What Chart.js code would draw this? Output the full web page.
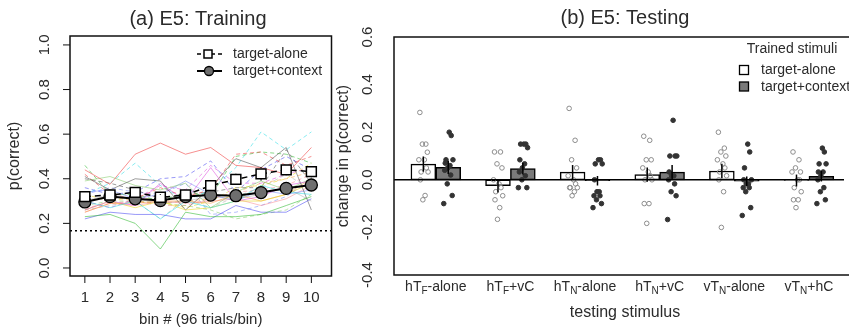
<!DOCTYPE html>
<html>
<head>
<meta charset="utf-8">
<script src="https://cdn.jsdelivr.net/npm/chart.js@4.4.1/dist/chart.umd.min.js"></script>
<style>
    html, body { margin: 0; padding: 0; background: #fff; }
    #wrap { position: relative; width: 849px; height: 328px; overflow: hidden; }
    #trainChart { position: absolute; left: 0; top: 0; }
    #testChart { position: absolute; left: 320px; top: 0; }
</style>
</head>
<body>
<div id="wrap">
    <canvas id="trainChart" width="340" height="328"></canvas>
    <canvas id="testChart" width="529" height="328"></canvas>
</div>
<script>
// === (a) Training: průměry po binech ===
const bins = [1, 2, 3, 4, 5, 6, 7, 8, 9, 10];
const meanAlone = [0.320, 0.327, 0.339, 0.317, 0.327, 0.369, 0.397, 0.422, 0.440, 0.432];
const seAlone = [0.020, 0.020, 0.022, 0.025, 0.022, 0.025, 0.025, 0.030, 0.025, 0.025];
const meanContext = [0.296, 0.320, 0.310, 0.302, 0.320, 0.327, 0.324, 0.338, 0.357, 0.372];
const seContext = [0.020, 0.018, 0.022, 0.028, 0.022, 0.025, 0.020, 0.020, 0.020, 0.022];
const chanceLevel = 1 / 6;
const trainTicks = [0, 0.2, 0.4, 0.6, 0.8, 1.0];

// === (a) jednotlivé subjekty ===
const subjectColors = [
    "rgba(240,70,70,0.6)", "rgba(60,190,60,0.6)", "rgba(70,70,240,0.55)", "rgba(40,220,230,0.55)",
    "rgba(220,60,220,0.5)", "rgba(235,215,40,0.6)", "rgba(90,90,90,0.6)", "rgba(250,150,50,0.5)",
    "rgba(120,200,90,0.5)", "rgba(110,130,250,0.5)", "rgba(250,130,140,0.5)", "rgba(170,170,170,0.5)"
];
const subjContext = [
    [0.44, 0.375, 0.51, 0.56, 0.51, 0.54, 0.46, 0.45, 0.42, 0.54],
    [0.23, 0.24, 0.20, 0.085, 0.25, 0.23, 0.23, 0.24, 0.28, 0.32],
    [0.22, 0.25, 0.24, 0.24, 0.22, 0.22, 0.28, 0.25, 0.25, 0.31],
    [0.30, 0.27, 0.30, 0.22, 0.30, 0.27, 0.30, 0.37, 0.34, 0.33],
    [0.26, 0.30, 0.28, 0.38, 0.30, 0.45, 0.30, 0.32, 0.37, 0.39],
    [0.26, 0.30, 0.27, 0.30, 0.26, 0.27, 0.30, 0.30, 0.33, 0.38],
    [0.41, 0.35, 0.40, 0.39, 0.26, 0.36, 0.49, 0.45, 0.54, 0.26],
    [0.25, 0.29, 0.29, 0.30, 0.30, 0.29, 0.33, 0.30, 0.33, 0.40],
    [0.39, 0.41, 0.37, 0.35, 0.38, 0.27, 0.34, 0.39, 0.35, 0.40],
    [0.34, 0.35, 0.31, 0.33, 0.39, 0.33, 0.30, 0.35, 0.33, 0.35],
    [0.25, 0.29, 0.28, 0.30, 0.29, 0.30, 0.31, 0.28, 0.31, 0.37],
    [0.30, 0.33, 0.31, 0.29, 0.30, 0.32, 0.31, 0.33, 0.36, 0.30]
];
const subjAlone = [
    [0.42, 0.33, 0.31, 0.36, 0.32, 0.35, 0.51, 0.52, 0.46, 0.50],
    [0.46, 0.33, 0.33, 0.30, 0.34, 0.32, 0.50, 0.52, 0.51, 0.47],
    [0.36, 0.33, 0.34, 0.40, 0.41, 0.48, 0.34, 0.44, 0.50, 0.44],
    [0.33, 0.38, 0.47, 0.37, 0.30, 0.35, 0.45, 0.61, 0.53, 0.61],
    [0.30, 0.27, 0.31, 0.37, 0.35, 0.46, 0.38, 0.38, 0.42, 0.45],
    [0.33, 0.30, 0.32, 0.30, 0.27, 0.30, 0.36, 0.37, 0.40, 0.47],
    [0.40, 0.38, 0.35, 0.31, 0.33, 0.34, 0.36, 0.36, 0.53, 0.38],
    [0.30, 0.32, 0.30, 0.29, 0.30, 0.31, 0.34, 0.38, 0.40, 0.43],
    [0.28, 0.30, 0.30, 0.29, 0.28, 0.26, 0.22, 0.24, 0.26, 0.33],
    [0.33, 0.36, 0.34, 0.33, 0.38, 0.24, 0.25, 0.28, 0.32, 0.40],
    [0.27, 0.29, 0.30, 0.28, 0.28, 0.31, 0.34, 0.35, 0.37, 0.42],
    [0.26, 0.28, 0.30, 0.22, 0.31, 0.27, 0.32, 0.36, 0.42, 0.35]
];

// === (b) Testing ===
const testLabels = [
    ["hT", "F", "-alone"], ["hT", "F", "+vC"], ["hT", "N", "-alone"],
    ["hT", "N", "+vC"], ["vT", "N", "-alone"], ["vT", "N", "+hC"]
];
const testAloneMean = [0.066, -0.025, 0.032, 0.022, 0.037, -0.003];
const testAloneSe = [0.032, 0.028, 0.030, 0.030, 0.030, 0.025];
const testContextMean = [0.052, 0.047, -0.004, 0.032, -0.006, 0.015];
const testContextSe = [0.028, 0.025, 0.020, 0.030, 0.020, 0.022];
const testAlonePts = [
    [0.283, 0.15, 0.15, 0.116, 0.084, 0.084, 0.05, 0.033, 0.033, 0.0, -0.066, -0.084],
    [0.117, 0.117, 0.067, 0.05, 0.0, -0.017, -0.033, -0.05, -0.067, -0.084, -0.117, -0.166],
    [0.30, 0.166, 0.084, 0.05, 0.017, 0.0, -0.017, -0.033, -0.033, -0.033, -0.05, -0.067],
    [0.183, 0.166, 0.084, 0.084, 0.05, 0.033, 0.017, 0.0, 0.0, -0.10, -0.10, -0.183],
    [0.20, 0.133, 0.117, 0.10, 0.084, 0.067, 0.05, 0.033, 0.017, 0.0, -0.05, -0.20],
    [0.117, 0.084, 0.05, 0.033, 0.033, 0.0, 0.0, -0.033, -0.05, -0.084, -0.084, -0.117]
];
const testContextPts = [
    [0.20, 0.186, 0.084, 0.084, 0.07, 0.06, 0.05, 0.04, 0.02, -0.017, -0.066, -0.10],
    [0.15, 0.15, 0.15, 0.135, 0.084, 0.067, 0.05, 0.033, 0.017, 0.0, -0.033, -0.033],
    [0.084, 0.084, 0.067, 0.067, 0.0, -0.05, -0.05, -0.067, -0.067, -0.084, -0.10, -0.117],
    [0.25, 0.10, 0.10, 0.10, 0.033, 0.017, 0.017, 0.0, -0.017, -0.05, -0.067, -0.167],
    [0.15, 0.117, 0.05, 0.0, 0.0, -0.017, -0.017, -0.033, -0.033, -0.05, -0.117, -0.15],
    [0.133, 0.117, 0.067, 0.067, 0.033, 0.033, 0.017, 0.0, -0.033, -0.05, -0.084, -0.10]
];
const jitter = [-0.14, 0.10, -0.04, 0.16, -0.18, 0.04, 0.12, -0.09, 0.19, -0.12, 0.07, -0.02];
const testTicks = [-0.4, -0.2, 0.0, 0.2, 0.4, 0.6];

const FONT = '"Liberation Sans", Arial, sans-serif';
const TXT = "#2b2b2b";

// pozice skupin v jednotkách osy x (R barplot: sloupce šířky 1, mezera 1)
const groupCenter = i => 2 + 3 * i;

function rotText(ctx, text, x, y, size) {
    ctx.save();
    ctx.translate(x, y);
    ctx.rotate(-Math.PI / 2);
    ctx.font = `${size}px ${FONT}`;
    ctx.textAlign = "center";
    ctx.textBaseline = "middle";
    ctx.fillText(text, 0, 0);
    ctx.restore();
}

// === Plugin pro levý graf ===
const trainDecor = {
    id: "trainDecor",
    beforeDatasetsDraw(chart) {
        const { ctx, chartArea: a, scales: { x, y } } = chart;
        ctx.save();
        ctx.strokeStyle = "#000";
        ctx.lineWidth = 1.5;
        ctx.setLineDash([2, 3]);
        const cy = y.getPixelForValue(chanceLevel);
        ctx.beginPath();
        ctx.moveTo(a.left, cy);
        ctx.lineTo(a.right, cy);
        ctx.stroke();
        ctx.restore();
    },
    afterDatasetsDraw(chart) {
        const { ctx, scales: { x, y } } = chart;
        ctx.save();
        ctx.strokeStyle = "#000";
        ctx.lineWidth = 1.3;
        [[meanAlone, seAlone], [meanContext, seContext]].forEach(([m, s]) => {
            bins.forEach((b, i) => {
                const px = x.getPixelForValue(b);
                const top = y.getPixelForValue(m[i] + s[i]);
                const bot = y.getPixelForValue(m[i] - s[i]);
                // jen části mimo značku
                ctx.beginPath();
                ctx.moveTo(px, top);
                ctx.lineTo(px, top + Math.max(0, (bot - top) / 2 - 5.5));
                ctx.moveTo(px, bot);
                ctx.lineTo(px, bot - Math.max(0, (bot - top) / 2 - 5.5));
                ctx.stroke();
            });
        });
        ctx.restore();
    },
    afterDraw(chart) {
        const { ctx, chartArea: a, scales: { x, y } } = chart;
        ctx.save();
        ctx.strokeStyle = "#111";
        ctx.lineWidth = 1.5;
        ctx.strokeRect(a.left, a.top, a.right - a.left, a.bottom - a.top);

        ctx.fillStyle = TXT;
        ctx.lineWidth = 1;
        // osa y
        trainTicks.forEach(v => {
            const py = y.getPixelForValue(v);
            ctx.beginPath();
            ctx.moveTo(a.left - 7, py);
            ctx.lineTo(a.left, py);
            ctx.stroke();
            rotText(ctx, v.toFixed(1), a.left - 25, py, 15);
        });
        // osa x
        ctx.font = `15px ${FONT}`;
        ctx.textAlign = "center";
        ctx.textBaseline = "middle";
        bins.forEach(b => {
            const px = x.getPixelForValue(b);
            ctx.beginPath();
            ctx.moveTo(px, a.bottom);
            ctx.lineTo(px, a.bottom + 7);
            ctx.stroke();
            ctx.fillText(String(b), px, 298);
        });
        ctx.fillText("bin # (96 trials/bin)", (a.left + a.right) / 2, 320);
        rotText(ctx, "p(correct)", 15, (a.top + a.bottom) / 2, 16);
        ctx.font = `20px ${FONT}`;
        ctx.fillText("(a) E5: Training", 198, 19);

        // legenda
        ctx.strokeStyle = "#000";
        ctx.lineWidth = 1.5;
        ctx.setLineDash([4, 3]);
        ctx.beginPath();
        ctx.moveTo(197, 54);
        ctx.lineTo(222, 54);
        ctx.stroke();
        ctx.setLineDash([]);
        ctx.fillStyle = "#fff";
        ctx.fillRect(204, 50, 8, 8);
        ctx.strokeRect(204, 50, 8, 8);
        ctx.lineWidth = 2;
        ctx.beginPath();
        ctx.moveTo(197, 71);
        ctx.lineTo(222, 71);
        ctx.stroke();
        ctx.fillStyle = "#6e6e6e";
        ctx.lineWidth = 1.3;
        ctx.beginPath();
        ctx.arc(209, 71, 4.5, 0, Math.PI * 2);
        ctx.fill();
        ctx.stroke();
        ctx.fillStyle = TXT;
        ctx.font = `14px ${FONT}`;
        ctx.textAlign = "left";
        ctx.fillText("target-alone", 233, 54);
        ctx.fillText("target+context", 233, 71);
        ctx.restore();
    }
};

const trainDatasets = [
    {
        label: "target-alone",
        data: bins.map((b, i) => ({ x: b, y: meanAlone[i] })),
        borderColor: "#000", borderWidth: 1.5, borderDash: [6, 4],
        pointStyle: "rect", pointRadius: 7, pointBackgroundColor: "#fff",
        pointBorderColor: "#000", pointBorderWidth: 1.5
    },
    {
        label: "target+context",
        data: bins.map((b, i) => ({ x: b, y: meanContext[i] })),
        borderColor: "#000", borderWidth: 2,
        pointStyle: "circle", pointRadius: 6, pointBackgroundColor: "#6e6e6e",
        pointBorderColor: "#000", pointBorderWidth: 1.3
    }
];
subjContext.forEach((s, k) => trainDatasets.push({
    data: bins.map((b, i) => ({ x: b, y: s[i] })),
    borderColor: subjectColors[k], borderWidth: 1, pointRadius: 0
}));
subjAlone.forEach((s, k) => trainDatasets.push({
    data: bins.map((b, i) => ({ x: b, y: s[i] })),
    borderColor: subjectColors[k], borderWidth: 1, borderDash: [4, 3], pointRadius: 0
}));

new Chart(document.getElementById("trainChart"), {
    type: "line",
    data: { datasets: trainDatasets },
    options: {
        responsive: false,
        devicePixelRatio: 1,
        animation: false,
        events: [],
        layout: { padding: { left: 70, right: 7, top: 36, bottom: 52 } },
        plugins: { legend: { display: false }, tooltip: { enabled: false } },
        scales: {
            x: { type: "linear", display: false, min: 0.41, max: 10.8 },
            y: { type: "linear", display: false, min: -0.036, max: 1.04 }
        }
    },
    plugins: [trainDecor]
});

// === Plugin pro pravý graf ===
const testDecor = {
    id: "testDecor",
    afterDatasetsDraw(chart) {
        const { ctx, chartArea: a, scales: { x, y } } = chart;
        ctx.save();
        ctx.strokeStyle = "#000";
        ctx.lineWidth = 1.5;
        const zy = y.getPixelForValue(0);
        ctx.beginPath();
        ctx.moveTo(a.left, zy);
        ctx.lineTo(a.right, zy);
        ctx.stroke();
        testLabels.forEach((_, i) => {
            [[groupCenter(i) - 0.5, testAloneMean[i], testAloneSe[i]],
             [groupCenter(i) + 0.5, testContextMean[i], testContextSe[i]]].forEach(([cx, m, s]) => {
                const px = x.getPixelForValue(cx);
                ctx.beginPath();
                ctx.moveTo(px, y.getPixelForValue(m - s));
                ctx.lineTo(px, y.getPixelForValue(m + s));
                ctx.stroke();
            });
        });
        ctx.restore();
    },
    afterDraw(chart) {
        const { ctx, chartArea: a, scales: { x, y } } = chart;
        ctx.save();
        ctx.strokeStyle = "#111";
        ctx.lineWidth = 1.5;
        ctx.beginPath();
        ctx.moveTo(a.right + 5, a.top);
        ctx.lineTo(a.left, a.top);
        ctx.lineTo(a.left, a.bottom);
        ctx.lineTo(a.right + 5, a.bottom);
        ctx.stroke();

        ctx.fillStyle = TXT;
        testTicks.forEach(v => {
            rotText(ctx, v.toFixed(1), a.left - 26, y.getPixelForValue(v), 15);
        });
        rotText(ctx, "change in p(correct)", 24, (a.top + a.bottom) / 2, 16);

        // popisky skupin s dolními indexy
        ctx.textBaseline = "middle";
        ctx.textAlign = "left";
        testLabels.forEach((parts, i) => {
            const cx = x.getPixelForValue(groupCenter(i));
            ctx.font = `14px ${FONT}`;
            const w0 = ctx.measureText(parts[0]).width;
            const w2 = ctx.measureText(parts[2]).width;
            ctx.font = `10px ${FONT}`;
            const w1 = ctx.measureText(parts[1]).width;
            let sx = cx - (w0 + w1 + w2) / 2;
            ctx.font = `14px ${FONT}`;
            ctx.fillText(parts[0], sx, 287);
            ctx.font = `10px ${FONT}`;
            ctx.fillText(parts[1], sx + w0, 291);
            ctx.font = `14px ${FONT}`;
            ctx.fillText(parts[2], sx + w0 + w1, 287);
        });

        ctx.textAlign = "center";
        ctx.font = `16px ${FONT}`;
        ctx.fillText("testing stimulus", 305, 313);
        ctx.font = `20px ${FONT}`;
        ctx.fillText("(b) E5: Testing", 305, 18);

        // legenda
        ctx.font = `14px ${FONT}`;
        ctx.fillText("Trained stimuli", 472, 49);
        ctx.lineWidth = 1.3;
        ctx.strokeStyle = "#000";
        ctx.fillStyle = "#fff";
        ctx.fillRect(419.5, 65.5, 9, 9);
        ctx.strokeRect(419.5, 65.5, 9, 9);
        ctx.fillStyle = "#7a7a7a";
        ctx.fillRect(419.5, 82, 9, 9);
        ctx.strokeRect(419.5, 82, 9, 9);
        ctx.fillStyle = TXT;
        ctx.textAlign = "left";
        ctx.fillText("target-alone", 441, 70);
        ctx.fillText("target+context", 441, 87);
        ctx.restore();
    }
};

const alonePoints = [];
const contextPoints = [];
testAlonePts.forEach((vals, g) => vals.forEach((v, j) =>
    alonePoints.push({ x: groupCenter(g) - 0.5 + jitter[j % jitter.length], y: v })));
testContextPts.forEach((vals, g) => vals.forEach((v, j) =>
    contextPoints.push({ x: groupCenter(g) + 0.5 + jitter[(j + 5) % jitter.length], y: v })));

new Chart(document.getElementById("testChart"), {
    type: "bar",
    data: {
        datasets: [
            {
                type: "scatter", order: 0, data: contextPoints,
                pointRadius: 2.3, pointBackgroundColor: "#333", pointBorderColor: "#333", pointBorderWidth: 1
            },
            {
                type: "scatter", order: 0, data: alonePoints,
                pointRadius: 2.3, pointBackgroundColor: "rgba(0,0,0,0)", pointBorderColor: "#8c8c8c", pointBorderWidth: 1
            },
            {
                label: "target-alone", order: 1, grouped: false,
                data: testAloneMean.map((m, i) => ({ x: groupCenter(i) - 0.5, y: m })),
                backgroundColor: "#fff", borderColor: "#000", borderWidth: 1.5, borderSkipped: false,
                categoryPercentage: 1, barPercentage: 1
            },
            {
                label: "target+context", order: 1, grouped: false,
                data: testContextMean.map((m, i) => ({ x: groupCenter(i) + 0.5, y: m })),
                backgroundColor: "#7a7a7a", borderColor: "#000", borderWidth: 1.5, borderSkipped: false,
                categoryPercentage: 1, barPercentage: 1
            }
        ]
    },
    options: {
        responsive: false,
        devicePixelRatio: 1,
        animation: false,
        events: [],
        datasets: { bar: { categoryPercentage: 1, barPercentage: 1 } },
        layout: { padding: { left: 74, right: 0, top: 37, bottom: 53 } },
        plugins: { legend: { display: false }, tooltip: { enabled: false } },
        scales: {
            x: {
                type: "linear", display: false, offset: false, min: 0.32, max: 18.41,
                afterBuildTicks: scale => { scale.ticks = testLabels.map((_, i) => ({ value: groupCenter(i) })); }
            },
            y: { type: "linear", display: false, min: -0.4, max: 0.6 }
        }
    },
    plugins: [testDecor]
});
</script>
</body>
</html>
